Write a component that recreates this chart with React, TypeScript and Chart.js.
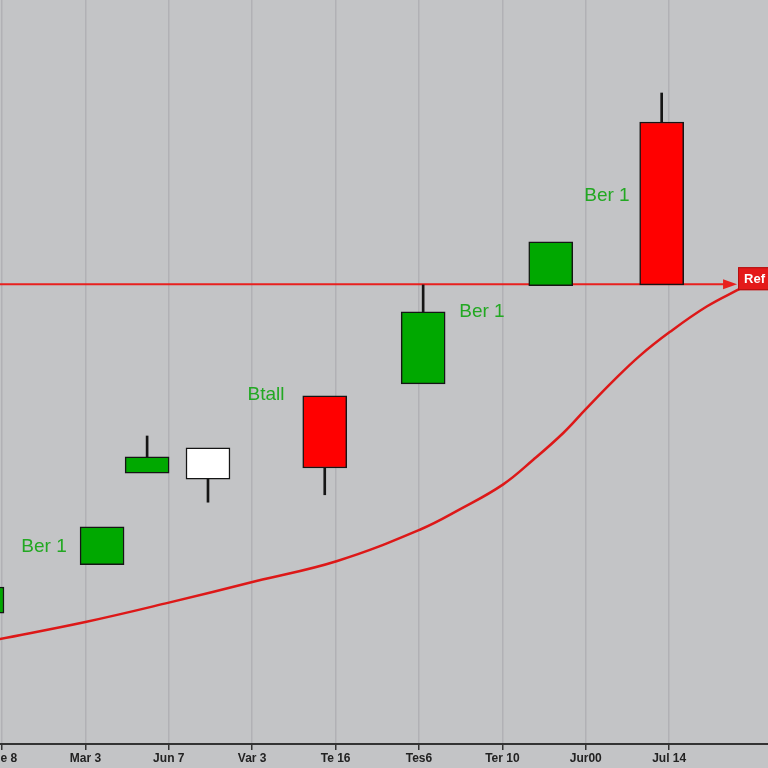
import React, { useEffect, useRef } from "react";
import { Chart, registerables } from "chart.js";

Chart.register(...registerables);

// X axis tick labels (category index 0..8)
const xLabels = ["Tue 8", "Mar 3", "Jun 7", "Var 3", "Te 16", "Tes6", "Ter 10", "Jur00", "Jul 14"];

// Candles: position on index axis, open/close/high/low
const candleX = [-0.24, 1.2, 1.74, 2.47, 3.87, 5.05, 6.58, 7.91];
const candleOpen = [17.6, 24.1, 36.4, 39.8, 46.8, 48.4, 61.6, 61.7];
const candleClose = [21.1, 29.2, 38.6, 35.6, 37.1, 58.1, 67.5, 83.6];
const candleHigh = [21.1, 29.2, 41.4, 39.8, 46.8, 61.7, 67.5, 87.5];
const candleLow = [17.6, 24.1, 36.4, 32.5, 33.5, 48.4, 61.6, 61.7];
const candleColors = ["#00a800", "#00a800", "#00a800", "#ffffff", "#ff0000", "#00a800", "#00a800", "#ff0000"];

// Rising red curve
const curveX = [-0.03, 1.0, 2.0, 3.05, 4.02, 5.01, 5.5, 6.01, 6.37, 6.73, 7.0, 7.33, 7.65, 8.01, 8.45, 8.85];
const curveY = [14.1, 16.4, 19.0, 21.9, 24.6, 28.8, 31.6, 34.9, 38.2, 41.8, 45.0, 48.8, 52.2, 55.4, 58.8, 61.2];

// Reference level
const refValue = 61.8;
const refStartX = -0.03;
const refEndX = 8.79;
const refLabel = "Ref";

// Text annotations
const noteTexts = ["Ber 1", "Btall", "Ber 1", "Ber 1"];
const noteX = [0.504, 3.165, 5.755, 7.254];
const noteY = [26.5, 46.9, 58.1, 73.7];

const X_MIN = -0.024;
const X_MAX = 9.185;

export default function App() {
  const ref = useRef<HTMLCanvasElement | null>(null);

  useEffect(() => {
    if (!ref.current) return;

    const bgPlugin = {
      id: "bg",
      beforeDraw(chart: any) {
        const ctx = chart.ctx;
        ctx.save();
        ctx.fillStyle = "#c3c4c6";
        ctx.fillRect(0, 0, chart.width, chart.height);
        ctx.restore();
      },
    };

    const annoPlugin = {
      id: "anno",
      afterDatasetsDraw(chart: any) {
        const ctx = chart.ctx;
        const xs = chart.scales.x;
        const ys = chart.scales.y;
        ctx.save();
        // arrow head on ref line
        const tipX = xs.getPixelForValue(refEndX);
        const ry = ys.getPixelForValue(refValue);
        ctx.fillStyle = "#e8201e";
        ctx.beginPath();
        ctx.moveTo(tipX + 2, ry);
        ctx.lineTo(tipX - 12, ry - 5);
        ctx.lineTo(tipX - 12, ry + 5);
        ctx.closePath();
        ctx.fill();
        // ref label box
        const bx = tipX + 3;
        ctx.fillStyle = "#e41a1a";
        ctx.fillRect(bx, ry - 17, 40, 23);
        ctx.strokeStyle = "#b01010";
        ctx.lineWidth = 1;
        ctx.strokeRect(bx + 0.5, ry - 16.5, 40, 22);
        ctx.fillStyle = "#ffffff";
        ctx.font = "bold 13px 'Liberation Sans', Arial, sans-serif";
        ctx.textBaseline = "middle";
        ctx.textAlign = "left";
        ctx.fillText(refLabel, bx + 6, ry - 5);
        // text notes
        ctx.fillStyle = "#22a822";
        ctx.font = "19px 'Liberation Sans', Arial, sans-serif";
        ctx.textAlign = "center";
        ctx.textBaseline = "middle";
        for (let i = 0; i < noteTexts.length; i++) {
          ctx.fillText(noteTexts[i], xs.getPixelForValue(noteX[i]), ys.getPixelForValue(noteY[i]));
        }
        ctx.restore();
      },
    };

    const bodyTop = candleOpen.map((o, i) => Math.max(o, candleClose[i]));
    const bodyBottom = candleOpen.map((o, i) => Math.min(o, candleClose[i]));

    const chart = new Chart(ref.current, {
      type: "bar",
      data: {
        datasets: [
          {
            type: "bar",
            label: "bodies",
            data: candleX.map((x, i) => ({ x, y: [candleOpen[i], candleClose[i]] })) as any,
            backgroundColor: candleColors,
            borderColor: "#151515",
            borderWidth: 1.5,
            borderSkipped: false,
            barThickness: 44,
            grouped: false,
            order: 1,
          } as any,
          {
            type: "bar",
            label: "upper wicks",
            data: candleX
              .map((x, i) => (candleHigh[i] > bodyTop[i] ? { x, y: [bodyTop[i], candleHigh[i]] } : null))
              .filter(Boolean) as any,
            backgroundColor: "#151515",
            borderWidth: 0,
            barThickness: 2,
            grouped: false,
            order: 2,
          } as any,
          {
            type: "bar",
            label: "lower wicks",
            data: candleX
              .map((x, i) => (candleLow[i] < bodyBottom[i] ? { x, y: [candleLow[i], bodyBottom[i]] } : null))
              .filter(Boolean) as any,
            backgroundColor: "#151515",
            borderWidth: 0,
            barThickness: 2,
            grouped: false,
            order: 2,
          } as any,
          {
            type: "line",
            label: "ref",
            data: [
              { x: refStartX, y: refValue },
              { x: refEndX - 0.1, y: refValue },
            ],
            borderColor: "#e8201e",
            borderWidth: 2,
            pointRadius: 0,
            order: 3,
          } as any,
          {
            type: "line",
            label: "curve",
            data: curveX.map((x, i) => ({ x, y: curveY[i] })),
            borderColor: "#dd1818",
            borderWidth: 2.5,
            pointRadius: 0,
            tension: 0.4,
            order: 3,
          } as any,
        ],
      },
      options: {
        animation: false,
        responsive: true,
        maintainAspectRatio: false,
        layout: { padding: 0 },
        plugins: { legend: { display: false }, tooltip: { enabled: false } },
        scales: {
          x: {
            type: "linear",
            min: X_MIN,
            max: X_MAX,
            offset: false,
            afterBuildTicks: (scale: any) => {
              scale.ticks = xLabels.map((_, i) => ({ value: i }));
            },
            afterFit: (scale: any) => {
              scale.height = 24;
              scale.paddingLeft = 0;
              scale.paddingRight = 0;
            },
            ticks: {
              autoSkip: false,
              maxRotation: 0,
              padding: 1,
              color: "#222222",
              font: { family: "'Liberation Sans', Arial, sans-serif", size: 12, weight: "bold" },
              callback: (v: any) => xLabels[v as number] ?? "",
            },
            grid: {
              offset: false,
              color: "rgba(150,151,156,0.4)",
              lineWidth: 1.5,
              tickColor: "#333333",
              tickLength: 6,
              drawOnChartArea: true,
            },
            border: { color: "#333333", width: 2 },
          },
          y: {
            display: false,
            min: 0,
            max: 100,
          },
        },
      },
      plugins: [bgPlugin, annoPlugin],
    });

    return () => chart.destroy();
  }, []);

  return (
    <div style={{ position: "fixed", left: 0, top: 0, width: 768, height: 768 }}>
      <canvas ref={ref} />
    </div>
  );
}
